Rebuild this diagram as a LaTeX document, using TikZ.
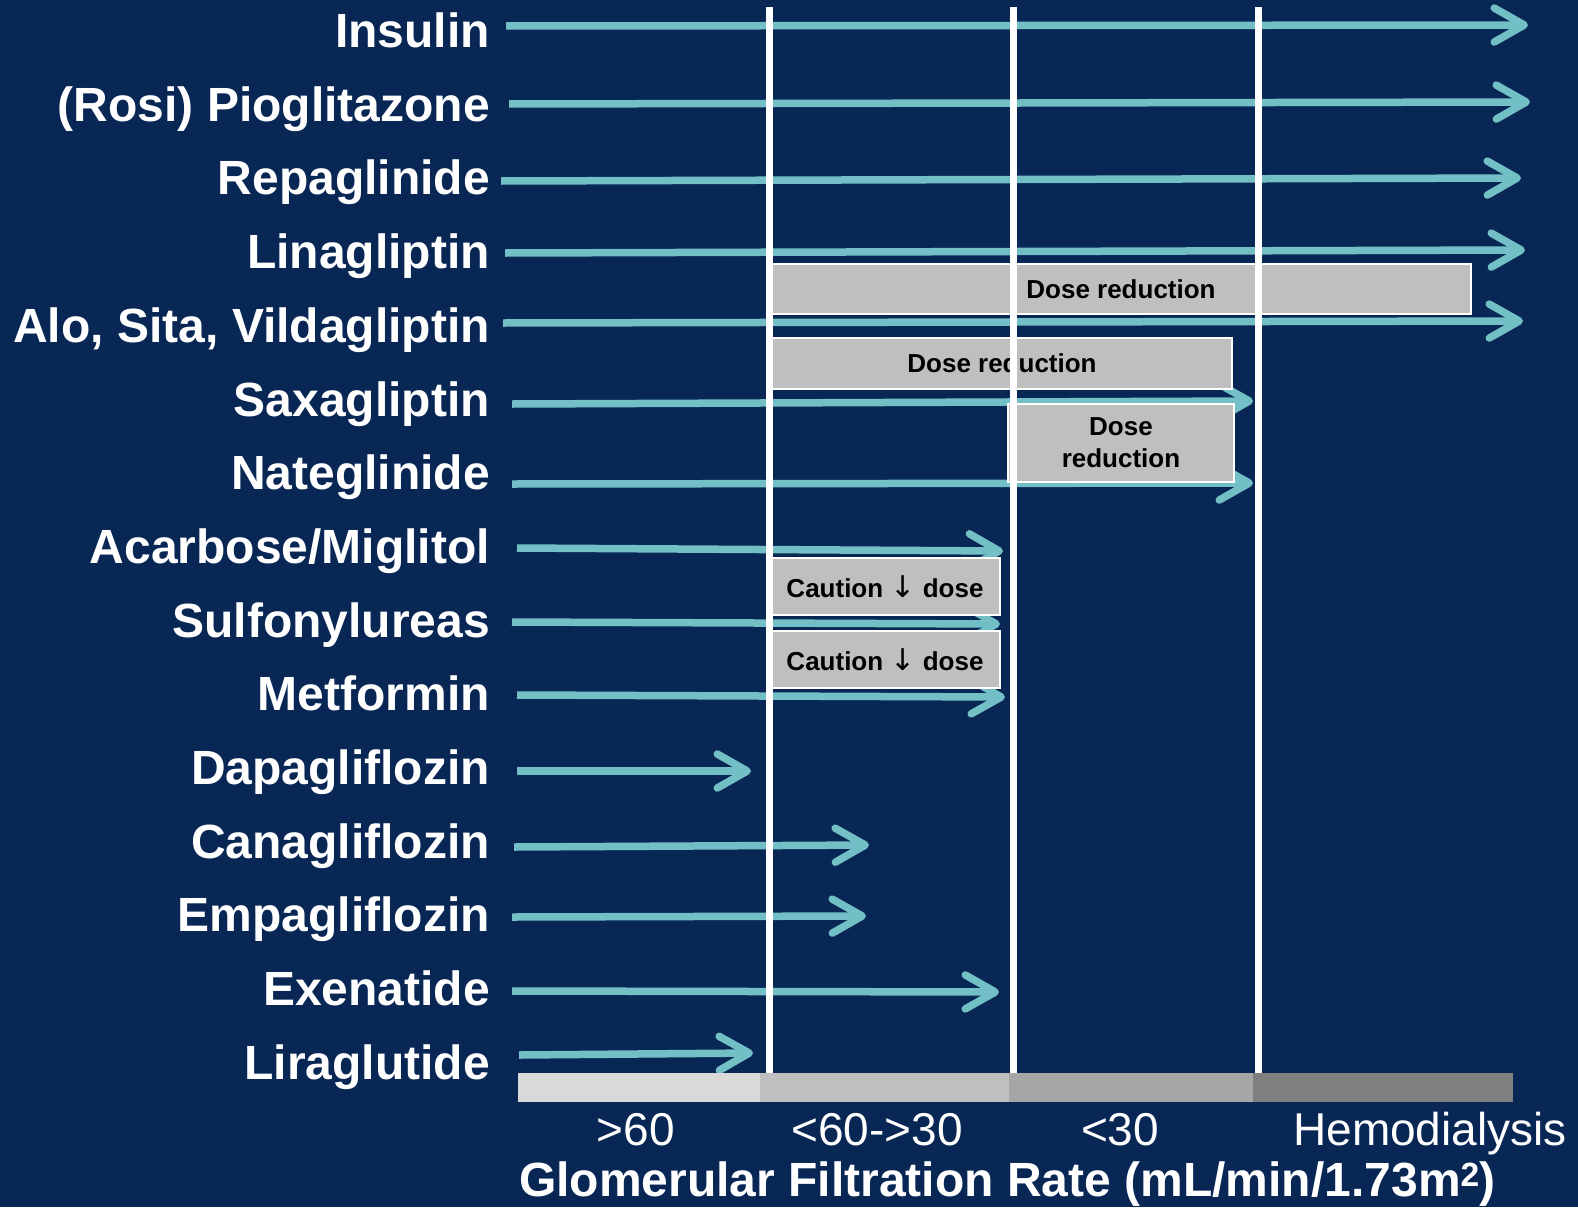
\documentclass[tikz,border=0pt]{standalone}
\usepackage{fontspec}
\setmainfont{Liberation Sans}
\newfontfamily\arrowfont{DejaVu Sans}
\usetikzlibrary{arrows.meta}
\definecolor{bg}{RGB}{8,39,85}
\definecolor{teal}{RGB}{114,192,198}
\definecolor{boxgray}{RGB}{191,191,191}
\definecolor{barA}{RGB}{217,217,217}
\definecolor{barB}{RGB}{191,191,191}
\definecolor{barC}{RGB}{166,166,166}
\definecolor{barD}{RGB}{127,127,127}
\newcommand{\downarr}{{\arrowfont\mdseries\fontsize{30}{32}\selectfont ↓}}
\tikzset{
  druglabel/.style={anchor=base east, text=white, font=\fontsize{48}{50}\selectfont\bfseries, inner sep=0pt},
  drugarrow/.style={draw=teal, line width=7.5pt, -{Straight Barb[length=30pt, width=34pt, round]}},
  gfrline/.style={draw=white, line width=7pt},
  dosebox/.style={fill=boxgray, draw=white, line width=2.5pt, text=black, font=\fontsize{26}{32}\selectfont\bfseries, align=center, inner sep=0pt},
  barseg/.style={inner sep=0pt, draw=none},
  gfrlabel/.style={anchor=base, text=white, font=\fontsize{46}{50}\selectfont, inner sep=0pt},
}
\begin{document}
\begin{tikzpicture}[x=1pt, y=-1pt]
\path[fill=bg, use as bounding box] (0,0) rectangle (1578,1207);

% labels
\foreach \i/\t in {1/Insulin, 2/(Rosi) Pioglitazone, 3/Repaglinide, 4/Linagliptin, 5/{Alo, Sita, Vildagliptin}, 6/Saxagliptin, 7/Nateglinide, 8/Acarbose\slash Miglitol, 9/Sulfonylureas, 10/Metformin, 11/Dapagliflozin, 12/Canagliflozin, 13/Empagliflozin, 14/Exenatide, 15/Liraglutide}{
  \node[druglabel] (l\i) at (490, {47.5+73.7*(\i-1)}) {\t};
}

% arrow coordinates
\coordinate (s1) at (506,26);   \coordinate (e1) at (1528,25);
\coordinate (s2) at (509,104);  \coordinate (e2) at (1530,102);
\coordinate (s3) at (501,181);  \coordinate (e3) at (1521,178);
\coordinate (s4) at (505,253);  \coordinate (e4) at (1525,250);
\coordinate (s5) at (503,323);  \coordinate (e5) at (1523,321);
\coordinate (s6) at (512,404);  \coordinate (e6) at (1253,401);
\coordinate (s7) at (512,484);  \coordinate (e7) at (1253,483);
\coordinate (s8) at (517,548);  \coordinate (e8) at (1003,551);
\coordinate (s9) at (512,622);  \coordinate (e9) at (1000,624);
\coordinate (s10) at (517,695); \coordinate (e10) at (1005,697);
\coordinate (s11) at (517,771); \coordinate (e11) at (751,771);
\coordinate (s12) at (514,847); \coordinate (e12) at (869,845);
\coordinate (s13) at (512,917); \coordinate (e13) at (866,916);
\coordinate (s14) at (512,991); \coordinate (e14) at (999,992);
\coordinate (s15) at (519,1055);\coordinate (e15) at (753,1053);

\foreach \i in {1,...,15}{
  \draw[drugarrow] (s\i) -- (e\i);
}

% dose boxes
\node[dosebox, minimum width=700pt, minimum height=50pt] (b1) at (1121,289) {Dose reduction};
\node[dosebox, minimum width=460pt, minimum height=51pt] (b2) at (1002,363.5) {Dose reduction};
\node[dosebox, minimum width=226pt, minimum height=78pt] (b3) at (1121,443) {Dose\\reduction};
\node[dosebox, minimum width=230pt, minimum height=57pt] (c1) at (885,586.5) {Caution \downarr{} dose};
\node[dosebox, minimum width=230pt, minimum height=57pt] (c2) at (885,659.5) {Caution \downarr{} dose};

% GFR bar
\node[barseg, fill=barA, minimum width=242pt, minimum height=29pt, anchor=north west] (g1) at (518,1073) {};
\node[barseg, fill=barB, minimum width=249pt, minimum height=29pt, anchor=north west] (g2) at (760,1073) {};
\node[barseg, fill=barC, minimum width=244pt, minimum height=29pt, anchor=north west] (g3) at (1009,1073) {};
\node[barseg, fill=barD, minimum width=260pt, minimum height=29pt, anchor=north west] (g4) at (1253,1073) {};

% vertical lines
\coordinate (t1) at (769,7);  \coordinate (t2) at (1013,7);  \coordinate (t3) at (1258,7);
\coordinate (u1) at (769,1073); \coordinate (u2) at (1013,1073); \coordinate (u3) at (1258,1073);
\foreach \i in {1,2,3}{ \draw[gfrline] (t\i) -- (u\i); }

% bottom labels
\node[gfrlabel] (x1) at (636,1145) {>60};
\node[gfrlabel] (x2) at (877,1145) {<60->30};
\node[gfrlabel] (x3) at (1120,1145) {<30};
\node[gfrlabel] (x4) at (1430,1145) {Hemodialysis};
\node[anchor=base west, text=white, font=\fontsize{48}{50}\selectfont\bfseries, inner sep=0pt] (xt) at (519,1196) {Glomerular Filtration Rate (mL/min/1.73m\textsuperscript{2})};
\end{tikzpicture}
\end{document}
